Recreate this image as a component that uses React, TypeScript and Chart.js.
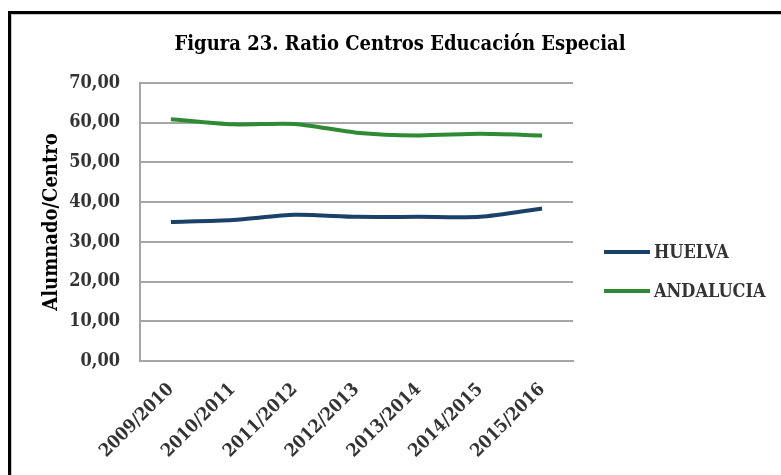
import React, { useEffect, useRef } from "react";
import { Chart, registerables } from "chart.js";

Chart.register(...registerables);

const categories = ["2009/2010", "2010/2011", "2011/2012", "2012/2013", "2013/2014", "2014/2015", "2015/2016"];
const huelva = [35.0, 35.5, 36.8, 36.3, 36.3, 36.3, 38.4];
const andalucia = [60.9, 59.6, 59.7, 57.5, 56.8, 57.2, 56.8];
const seriesNames = ["HUELVA", "ANDALUCIA"];
const seriesColors = ["#1B4168", "#2E8B34"];
const titleText = "Figura 23. Ratio Centros Educación Especial";
const yAxisTitle = "Alumnado/Centro";

const FONT = '"DejaVu Serif Condensed", "DejaVu Serif", serif';

const framePlugin = {
  id: "frame",
  beforeDraw(chart: any) {
    const ctx = chart.ctx;
    ctx.save();
    ctx.fillStyle = "#ffffff";
    ctx.fillRect(0, 0, chart.width, chart.height);
    ctx.fillStyle = "#000000";
    ctx.fillRect(8, 11, 3, chart.height - 11);
    ctx.fillRect(8, 11, chart.width - 8, 3);
    ctx.fillStyle = "#c8c8c8";
    ctx.fillRect(11, 14, 1, chart.height - 14);
    ctx.fillRect(11, 14, chart.width - 11, 1);
    ctx.restore();
  },
};

const titlePlugin = {
  id: "centerTitle",
  afterDraw(chart: any) {
    const ctx = chart.ctx;
    ctx.save();
    ctx.font = `bold 20px ${FONT}`;
    ctx.fillStyle = "#000000";
    ctx.textAlign = "center";
    ctx.textBaseline = "middle";
    ctx.fillText(titleText, 400, 45);
    ctx.restore();
  },
};

const legendPlugin = {
  id: "sideLegend",
  afterDraw(chart: any) {
    const ctx = chart.ctx;
    const area = chart.chartArea;
    ctx.save();
    ctx.font = `bold 18px ${FONT}`;
    ctx.textBaseline = "middle";
    ctx.textAlign = "left";
    chart.data.datasets.forEach((ds: any, i: number) => {
      const y = 252 + i * 39;
      const x0 = area.right + 31;
      ctx.strokeStyle = ds.borderColor;
      ctx.lineWidth = 4;
      ctx.beginPath();
      ctx.moveTo(x0, y);
      ctx.lineTo(x0 + 46, y);
      ctx.stroke();
      ctx.fillStyle = "#333333";
      ctx.fillText(ds.label, x0 + 50, y + 1);
    });
    ctx.restore();
  },
};

export default function App() {
  const ref = useRef<HTMLCanvasElement | null>(null);
  useEffect(() => {
    if (!ref.current) return;
    const chart = new Chart(ref.current, {
      type: "line",
      data: {
        labels: categories,
        datasets: [
          {
            label: seriesNames[0],
            data: huelva,
            borderColor: seriesColors[0],
            backgroundColor: seriesColors[0],
            borderWidth: 4,
            pointRadius: 0,
            tension: 0.25,
          },
          {
            label: seriesNames[1],
            data: andalucia,
            borderColor: seriesColors[1],
            backgroundColor: seriesColors[1],
            borderWidth: 4,
            pointRadius: 0,
            tension: 0.25,
          },
        ],
      },
      options: {
        animation: false,
        responsive: false,
        layout: { padding: { top: 83, right: 208, bottom: 0, left: 0 } },
        plugins: {
          legend: { display: false },
          tooltip: { enabled: false },
          title: { display: false },
        },
        scales: {
          x: {
            offset: true,
            grid: { display: false, drawTicks: false },
            border: { display: true, color: "#a6a6a6", width: 2 },
            ticks: {
              minRotation: 45,
              maxRotation: 45,
              padding: 18,
              color: "#333333",
              font: { family: FONT, size: 18, weight: "bold" },
            },
            afterFit(scale: any) {
              scale.height = 114;
            },
          },
          y: {
            min: 0,
            max: 70,
            grid: { color: "#a6a6a6", lineWidth: 2, drawTicks: false },
            border: { display: true, color: "#a6a6a6", width: 2 },
            ticks: {
              stepSize: 10,
              padding: 20,
              color: "#333333",
              font: { family: FONT, size: 18, weight: "bold" },
              callback: (v: any) => Number(v).toFixed(2).replace(".", ","),
            },
            title: {
              display: true,
              text: yAxisTitle,
              color: "#000000",
              font: { family: FONT, size: 20, weight: "bold" },
              padding: { top: 40, bottom: 0 },
            },
            afterFit(scale: any) {
              scale.width = 140;
            },
          },
        },
      },
      plugins: [framePlugin, titlePlugin, legendPlugin],
    });
    return () => chart.destroy();
  }, []);
  return (
    <>
      <style>{`body{margin:0;}`}</style>
      <canvas ref={ref} width={781} height={475} style={{ display: "block", width: 781, height: 475 }} />
    </>
  );
}
